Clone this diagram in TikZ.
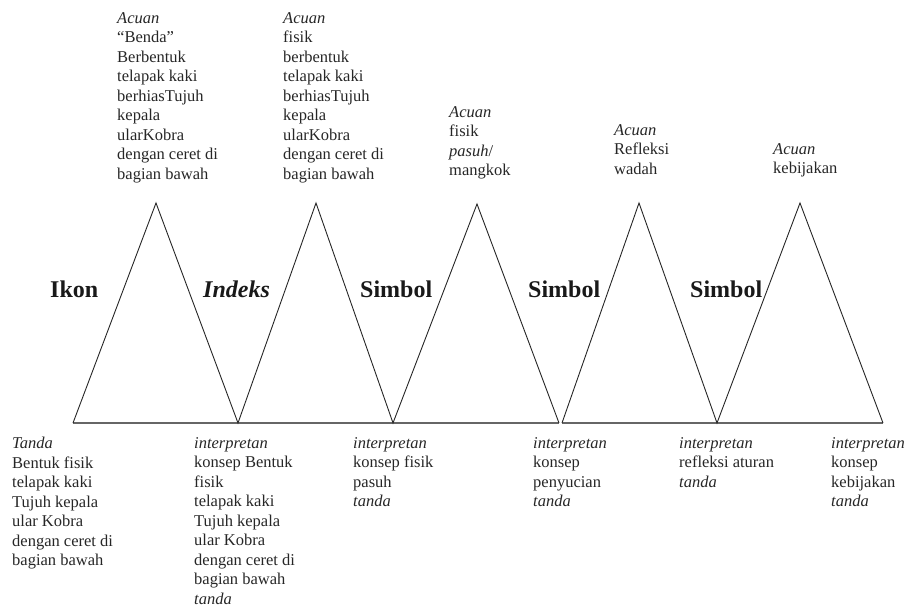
\documentclass[tikz,border=0pt]{standalone}
\usepackage{fontspec}
\setmainfont{Liberation Serif}
\begin{document}
\begin{tikzpicture}[x=1pt,y=-1pt,
  txt/.style={anchor=north west,inner sep=0pt,align=left,font=\fontsize{16.5}{19.5}\selectfont,text=black!85},
  lbl/.style={anchor=base west,inner sep=0pt,font=\fontsize{24}{28}\selectfont\bfseries,text=black!90},
  side/.style={draw=black!85,line width=0.9pt,line join=miter},
  basel/.style={draw=black!60,line width=1.8pt}]
\useasboundingbox (0,0) rectangle (910,609);
% triangle corners
\coordinate (b0) at (73,423);
\coordinate (a1) at (156,203);
\coordinate (b1) at (238,423);
\coordinate (a2) at (316,203);
\coordinate (b2) at (393,423);
\coordinate (a3) at (477,204);
\coordinate (b3) at (559,423);
\coordinate (b3r) at (562,423);
\coordinate (a4) at (639,203);
\coordinate (b4) at (717,423);
\coordinate (a5) at (800,203);
\coordinate (b5) at (883,423);
% bases
\draw[basel] (b0) -- (b3);
\draw[basel] (b3r) -- (b5);
% sides
\draw[side] (b0) -- (a1) -- (b1) -- (a2) -- (b2) -- (a3) -- (b3);
\draw[side] (b3r) -- (a4) -- (b4) -- (a5) -- (b5);
% labels
\node[lbl] (ikon) at (50,298) {Ikon};
\node[lbl] (indeks) at (203,298) {\textit{Indeks}};
\node[lbl] (simbol1) at (360,298) {Simbol};
\node[lbl] (simbol2) at (528,298) {Simbol};
\node[lbl] (simbol3) at (690,298) {Simbol};
% top texts
\node[txt] (ac1) at (117,12) {\textit{Acuan}\\“Benda”\\Berbentuk\\telapak kaki\\berhiasTujuh\\kepala\\ularKobra\\dengan ceret di\\bagian bawah};
\node[txt] (ac2) at (283,12) {\textit{Acuan}\\fisik\\berbentuk\\telapak kaki\\berhiasTujuh\\kepala\\ularKobra\\dengan ceret di\\bagian bawah};
\node[txt] (ac3) at (449,106) {\textit{Acuan}\\fisik\\\textit{pasuh}/\\mangkok};
\node[txt] (ac4) at (614,124) {\textit{Acuan}\\Refleksi\\wadah};
\node[txt] (ac5) at (773,143) {\textit{Acuan}\\kebijakan};
% bottom texts
\node[txt] (bt1) at (12,437) {\textit{Tanda}\\Bentuk fisik\\telapak kaki\\Tujuh kepala\\ular Kobra\\dengan ceret di\\bagian bawah};
\node[txt] (bt2) at (194,437) {\textit{interpretan}\\konsep Bentuk\\fisik\\telapak kaki\\Tujuh kepala\\ular Kobra\\dengan ceret di\\bagian bawah\\\textit{tanda}};
\node[txt] (bt3) at (353,437) {\textit{interpretan}\\konsep fisik\\pasuh\\\textit{tanda}};
\node[txt] (bt4) at (533,437) {\textit{interpretan}\\konsep\\penyucian\\\textit{tanda}};
\node[txt] (bt5) at (679,437) {\textit{interpretan}\\refleksi aturan\\\textit{tanda}};
\node[txt] (bt6) at (831,437) {\textit{interpretan}\\konsep\\kebijakan\\\textit{tanda}};
\end{tikzpicture}
\end{document}
